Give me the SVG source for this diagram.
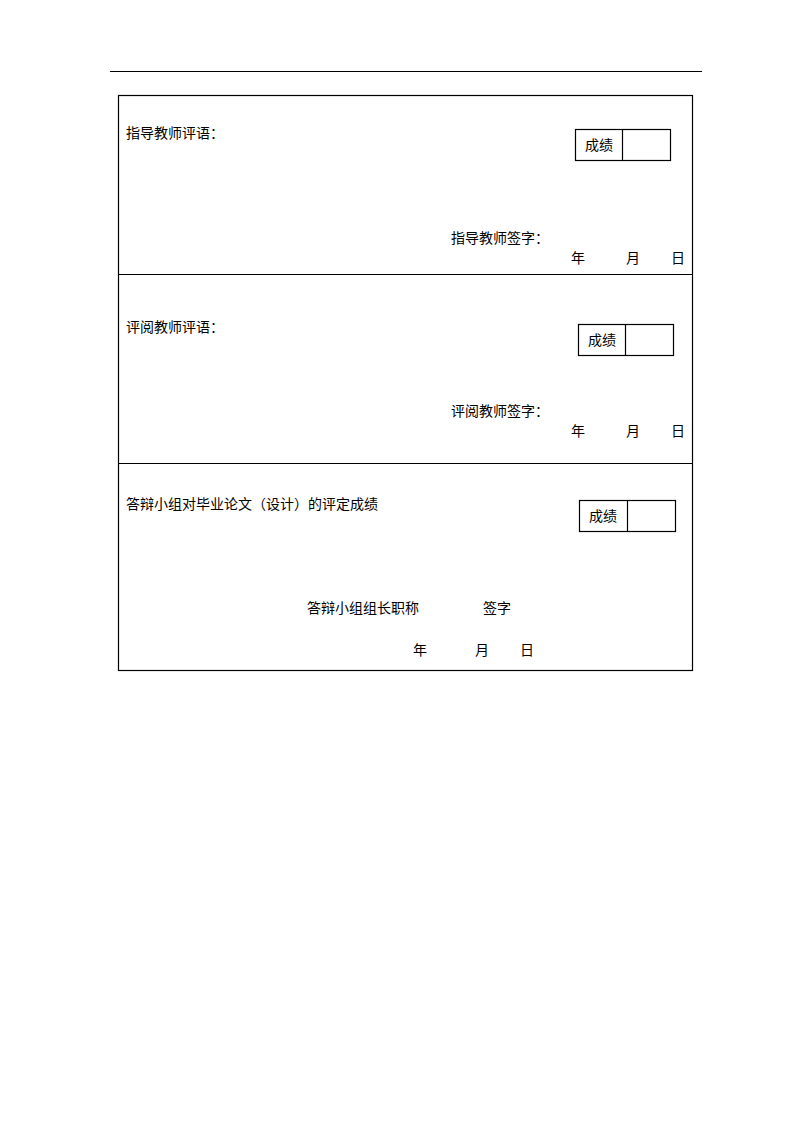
<svg xmlns="http://www.w3.org/2000/svg" width="794" height="1123" viewBox="0 0 794 1123">
<style>
.t{font-family:"Liberation Sans","Noto Sans CJK SC",sans-serif;font-size:14px;fill:#000}
.l{stroke:#000;stroke-width:1.2;fill:none}
.b{stroke:#000;stroke-width:1.2;fill:#fff}
</style>
<rect width="794" height="1123" fill="#fff"/>
<line class="l" x1="110" y1="71.5" x2="702" y2="71.5"/>
<g id="table">
<rect class="l" x="118.5" y="95.5" width="574" height="575"/>
<line class="l" x1="118.5" y1="274.5" x2="692.5" y2="274.5"/>
<line class="l" x1="118.5" y1="463.5" x2="692.5" y2="463.5"/>
</g>
<g id="section1">
<text class="t" x="126" y="138">指导教师评语：</text>
<rect class="b" x="575.5" y="129.5" width="95" height="31"/>
<line class="l" x1="622.5" y1="129.5" x2="622.5" y2="160.5"/>
<text class="t" x="585" y="150">成绩</text>
<text class="t" x="451" y="243">指导教师签字：</text>
<text class="t" x="571" y="263">年</text>
<text class="t" x="626" y="263">月</text>
<text class="t" x="671" y="263">日</text>
</g>
<g id="section2">
<text class="t" x="126" y="332">评阅教师评语：</text>
<rect class="b" x="578.5" y="324.5" width="95" height="31"/>
<line class="l" x1="625.5" y1="324.5" x2="625.5" y2="355.5"/>
<text class="t" x="588" y="345">成绩</text>
<text class="t" x="451" y="416">评阅教师签字：</text>
<text class="t" x="571" y="436">年</text>
<text class="t" x="626" y="436">月</text>
<text class="t" x="671" y="436">日</text>
</g>
<g id="section3">
<text class="t" x="126" y="509">答辩小组对毕业论文（设计）的评定成绩</text>
<rect class="b" x="579.5" y="500.5" width="96" height="31"/>
<line class="l" x1="627.5" y1="500.5" x2="627.5" y2="531.5"/>
<text class="t" x="589" y="521">成绩</text>
<text class="t" x="307" y="613">答辩小组组长职称</text>
<text class="t" x="483" y="613">签字</text>
<text class="t" x="413" y="655">年</text>
<text class="t" x="475" y="655">月</text>
<text class="t" x="520" y="655">日</text>
</g>
</svg>
